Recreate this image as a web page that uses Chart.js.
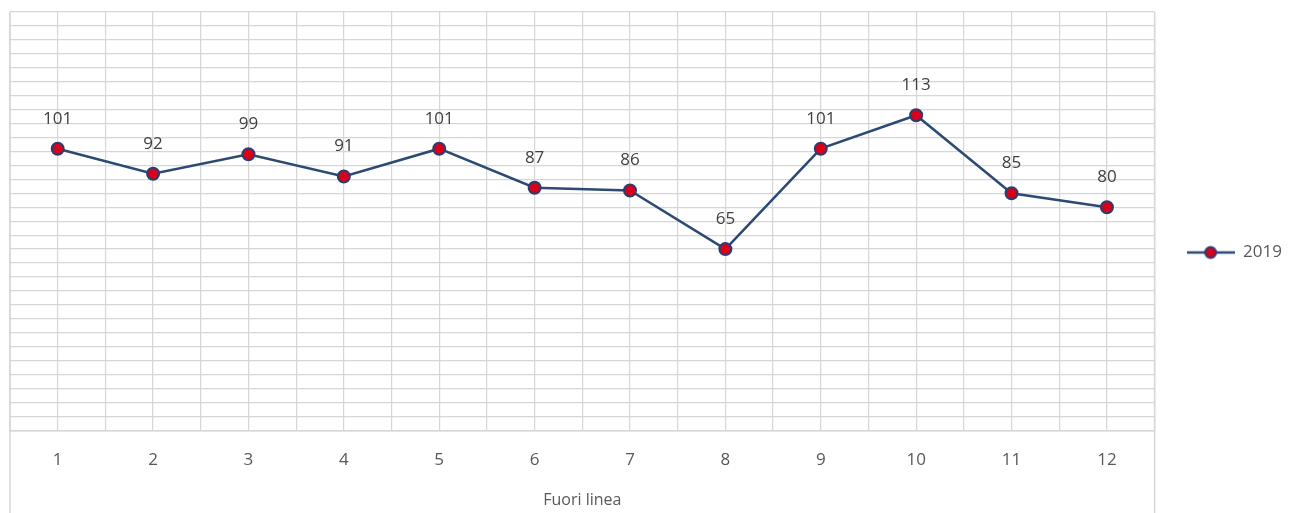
<!DOCTYPE html>
<html>
<head>
<meta charset="utf-8">
<script src="https://cdn.jsdelivr.net/npm/chart.js@4/dist/chart.umd.min.js"></script>
<style>
html,body{margin:0;padding:0;background:#fff;}
#wrap{width:1296px;height:513px;position:relative;}
</style>
</head>
<body>
<div id="wrap"><canvas id="c" width="1296" height="513"></canvas></div>
<script>
const categories = ['1','2','3','4','5','6','7','8','9','10','11','12'];
const seriesName = '2019';
const values2019 = [101, 92, 99, 91, 101, 87, 86, 65, 101, 113, 85, 80];
const xTitle = 'Fuori linea';

const LINE = '#2C4A74';
const FILL = '#D90019';
const GRID = '#D6D6D6';
const TEXT = '#595959';
const FONT = '"Open Sans", "Noto Sans", sans-serif';

// legend symbol: line with marker
const sym = document.createElement('canvas');
sym.width = 48; sym.height = 16;
(function(){
  const g = sym.getContext('2d');
  g.strokeStyle = LINE; g.lineWidth = 2.5;
  g.beginPath(); g.moveTo(0,8); g.lineTo(48,8); g.stroke();
  g.beginPath(); g.arc(24,8,5.5,0,Math.PI*2);
  g.fillStyle = FILL; g.fill();
  g.lineWidth = 2; g.strokeStyle = '#2B3E72'; g.stroke();
})();

const labelPlugin = {
  id: 'valLabels',
  afterDatasetsDraw(chart){
    const ctx = chart.ctx;
    const meta = chart.getDatasetMeta(0);
    ctx.save();
    ctx.font = '17px ' + FONT;
    ctx.fillStyle = '#404040';
    ctx.textAlign = 'center';
    ctx.textBaseline = 'middle';
    meta.data.forEach((pt, i) => {
      ctx.fillText(String(chart.data.datasets[0].data[i]), pt.x, pt.y - 30);
    });
    ctx.restore();
  }
};

const borderPlugin = {
  id: 'sideBorders',
  beforeDatasetsDraw(chart){
    const ctx = chart.ctx, a = chart.chartArea;
    ctx.save();
    ctx.strokeStyle = GRID; ctx.lineWidth = 1.5;
    ctx.beginPath();
    ctx.moveTo(a.left, a.top); ctx.lineTo(a.left, chart.height);
    ctx.moveTo(a.right, a.top); ctx.lineTo(a.right, chart.height);
    ctx.stroke();
    ctx.restore();
  }
};

new Chart(document.getElementById('c'), {
  type: 'line',
  data: {
    labels: categories,
    datasets: [{
      label: seriesName,
      data: values2019,
      borderColor: LINE,
      borderWidth: 2.5,
      tension: 0,
      pointRadius: 6,
      pointHoverRadius: 6,
      pointBackgroundColor: FILL,
      pointBorderColor: '#2B3E72',
      pointBorderWidth: 2,
      xAxisID: 'x',
      yAxisID: 'y'
    }]
  },
  options: {
    responsive: false,
    animation: false,
    devicePixelRatio: 1,
    layout: { padding: { left: 10, right: 4, top: 12, bottom: 20 } },
    plugins: {
      tooltip: { enabled: false },
      legend: {
        position: 'right',
        labels: {
          usePointStyle: true,
          pointStyle: sym,
          pointStyleWidth: 48,
          color: TEXT,
          font: { family: FONT, size: 17 },
          padding: 32
        }
      }
    },
    scales: {
      x: {
        type: 'category',
        offset: true,
        position: 'bottom',
        grid: { color: GRID, lineWidth: 1.2, offset: false, drawTicks: false },
        border: { color: GRID, width: 1.5 },
        ticks: { color: TEXT, font: { family: FONT, size: 17 }, padding: 20, maxRotation: 0 },
        title: { display: true, text: xTitle, color: TEXT, font: { family: FONT, size: 16 }, padding: { top: 0, bottom: -17 } }
      },
      x2: {
        type: 'category',
        labels: categories,
        offset: true,
        position: 'top',
        grid: { color: GRID, lineWidth: 1.2, offset: true, drawTicks: false },
        border: { display: false },
        ticks: { display: false }
      },
      y: {
        min: 0,
        max: 150,
        ticks: { display: false, stepSize: 5 },
        grid: { color: GRID, lineWidth: 1.2, drawTicks: false },
        border: { display: false }
      }
    }
  },
  plugins: [borderPlugin, labelPlugin]
});
</script>
</body>
</html>
